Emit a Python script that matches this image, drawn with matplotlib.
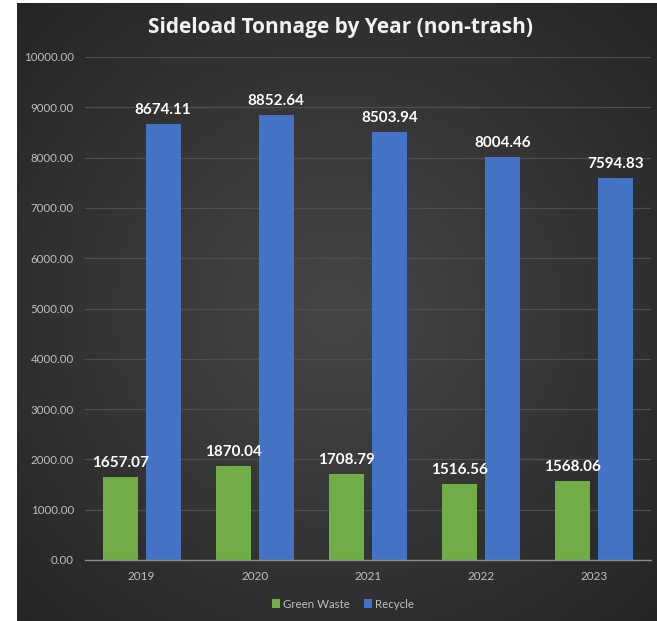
import numpy as np
import matplotlib
matplotlib.use("Agg")
import matplotlib.pyplot as plt

years = ["2019", "2020", "2021", "2022", "2023"]
green_waste = [1657.07, 1870.04, 1708.79, 1516.56, 1568.06]
recycle = [8674.11, 8852.64, 8503.94, 8004.46, 7594.83]
yticks = [0, 1000, 2000, 3000, 4000, 5000, 6000, 7000, 8000, 9000, 10000]
series_names = ["Green Waste", "Recycle"]
colors = ["#70ad47", "#4472c4"]

W, H = 657, 621
fig = plt.figure(figsize=(W / 100, H / 100), dpi=100, facecolor="white")
plt.rcParams['font.family'] = ['Lato', 'DejaVu Sans']

# background with radial gradient
bg = fig.add_axes([17 / W, 0, (W - 17) / W, (H - 3) / H])
bg.set_axis_off()
yy, xx = np.mgrid[-1:1:300j, -1:1:300j]
r = np.sqrt(xx ** 2 + yy ** 2) / np.sqrt(2)
c0 = np.array([0x46, 0x46, 0x46]) / 255
c1 = np.array([0x25, 0x25, 0x25]) / 255
img = c0[None, None, :] * (1 - r[..., None]) + c1[None, None, :] * r[..., None]
bg.imshow(img, extent=[0, 1, 0, 1], aspect="auto", zorder=0)
bg.set_xlim(0, 1)
bg.set_ylim(0, 1)

left, right, top, bottom = 85, 651, 57, 560
ax = fig.add_axes([left / W, (H - bottom) / H, (right - left) / W, (bottom - top) / H])
ax.patch.set_alpha(0)

x = np.arange(len(years))
bw = 0.31
off = 0.19
for vals, name, col, o in [(green_waste, series_names[0], colors[0], -off),
                           (recycle, series_names[1], colors[1], off)]:
    bars = ax.bar(x + o, vals, width=bw, color=col, label=name, zorder=3)
    for xi, v in zip(x + o, vals):
        ax.annotate(f"{v:.2f}", (xi, v), xytext=(0, 5), textcoords="offset points",
                    ha="center", va="bottom", color="white", fontsize=11,
                    fontweight="bold", zorder=4)

ax.set_xlim(-0.5, len(years) - 0.5)
ax.set_ylim(0, 10000)
ax.set_yticks(yticks)
ax.set_yticklabels([f"{t:.2f}" for t in yticks], color="#bfbfbf", fontsize=8.3)
ax.set_xticks(x)
ax.set_xticklabels(years, color="#bfbfbf", fontsize=8.5)
ax.tick_params(axis="both", length=0)
ax.tick_params(axis="y", pad=8)
ax.tick_params(axis="x", pad=8)
ax.grid(axis="y", color="#4e4e4e", linewidth=0.9, zorder=0)
for s in ["top", "right", "left"]:
    ax.spines[s].set_visible(False)
ax.spines["bottom"].set_color("#8c8c8c")
ax.spines["bottom"].set_linewidth(1)
ax.spines["bottom"].set_zorder(5)

fig.text(341 / W, 1 - 27 / H, "Sideload Tonnage by Year (non-trash)", ha="center", va="center",
         color="#f2f2f2", fontsize=15, fontweight="bold", family=["Open Sans", "DejaVu Sans"])

leg = fig.legend(loc="center", bbox_to_anchor=(343 / W, 1 - 604 / H), ncol=2, frameon=False,
                 fontsize=8.3, handlelength=0.7, handleheight=0.7, handletextpad=0.3,
                 columnspacing=1.2)
for t in leg.get_texts():
    t.set_color("#bfbfbf")

fig.savefig("out.png", dpi=100, facecolor="white")
